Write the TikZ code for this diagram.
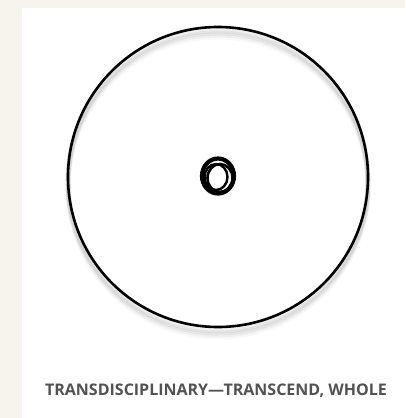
\documentclass[tikz,border=0pt]{standalone}
\usepackage{fontspec}
\setmainfont{Open Sans}
\begin{document}
\begin{tikzpicture}[x=1pt,y=-1pt,
  ring/.style={draw=black,line width=2.6pt},
  scribble/.style={draw=black,line width=4.2pt},
  shade/.style={draw=black,line width=3pt},
  caption/.style={text=black!68,font=\fontsize{16}{18}\selectfont\bfseries,inner sep=0pt}]
\useasboundingbox (0,0) rectangle (405,418);
\fill[fill={rgb,255:red,247;green,244;blue,238}] (0,0) rectangle (405,418);
\fill[white] (22,8) rectangle (405,418);
% soft shadow
\foreach \d/\o in {10/0.025,8/0.035,6/0.05,4/0.06}{
  \draw[shade,opacity=\o,line width=5pt] (218,{177+\d}) circle (150);
}
\node[circle,ring,minimum size=300pt,inner sep=0pt] (outer) at (218,177) {};
% scribbled centre
\draw[scribble] (218,176) ellipse (16 and 17.5);
\draw[scribble,line width=2.6pt] (220,178) ellipse (12.5 and 14);
\draw[scribble,line width=2.4pt] (216,177) ellipse (11.5 and 13);
\coordinate (centre) at (218,177);
\node[caption] (cap) at (216,391) {TRANSDISCIPLINARY—TRANSCEND, WHOLE};
\end{tikzpicture}
\end{document}
